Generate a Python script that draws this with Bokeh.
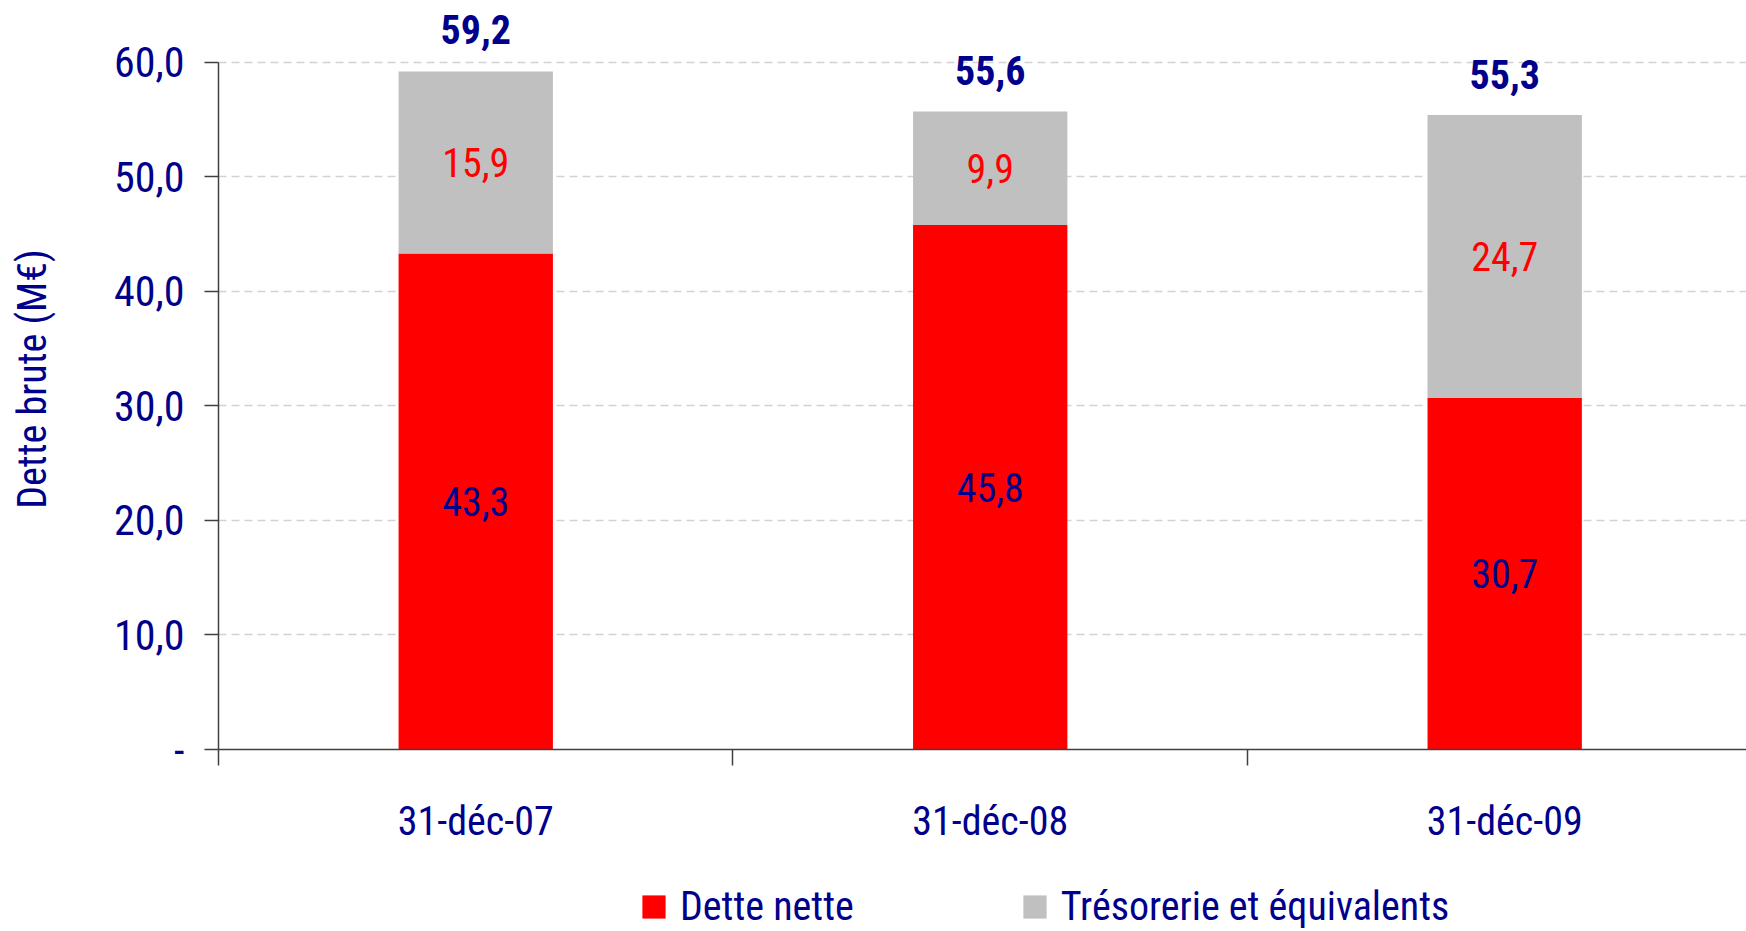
from bokeh.plotting import figure
from bokeh.layouts import column
from bokeh.models import (Range1d, LinearAxis, FixedTicker, ColumnDataSource,
                          Legend, LegendItem)
from bokeh.core.properties import value
from bokeh.embed import file_html
from bokeh.resources import INLINE

categories = ["31-déc-07", "31-déc-08", "31-déc-09"]
dette_nette = [43.3, 45.8, 30.7]
tresorerie = [15.9, 9.9, 24.7]
totaux = [59.2, 55.6, 55.3]
y_ticks = [0, 10, 20, 30, 40, 50, 60]
y_tick_labels = ["-", "10,0", "20,0", "30,0", "40,0", "50,0", "60,0"]
series_names = ["Dette nette", "Trésorerie et équivalents"]
series_colors = ["#FF0000", "#C0C0C0"]

FONT = "'Roboto Condensed', 'DejaVu Sans Condensed', 'Liberation Sans'"
NAVY = "#00008B"
FS = "40px"


def fr(v):
    return f"{v:.1f}".replace(".", ",")


pos = [i + 0.5 for i in range(len(categories))]
src = ColumnDataSource(dict(
    x=pos,
    net=dette_nette,
    tre=tresorerie,
    tot=totaux,
    net_mid=[v / 2 for v in dette_nette],
    tre_mid=[a + b / 2 for a, b in zip(dette_nette, tresorerie)],
    net_lbl=[fr(v) for v in dette_nette],
    tre_lbl=[fr(v) for v in tresorerie],
    tot_lbl=[fr(v) for v in totaux],
))

p = figure(width=1746, height=854, output_backend="svg", toolbar_location=None,
           x_range=Range1d(0, 2.970), y_range=Range1d(0, 64.7),
           x_axis_location=None, y_axis_location=None,
           min_border_left=218, min_border_right=0, min_border_top=8,
           min_border_bottom=105)
p.outline_line_color = None
p.background_fill_color = "white"
p.border_fill_color = "white"

r = p.vbar_stack(["net", "tre"], x="x", width=0.30, source=src,
                 color=series_colors, line_color=None)

# grid
p.xgrid.visible = False
p.ygrid.ticker = FixedTicker(ticks=y_ticks[1:])
p.ygrid.grid_line_color = "#D3D3D3"
p.ygrid.grid_line_dash = "8 5"
p.ygrid.grid_line_width = 1.5

# y axis
yax = LinearAxis(ticker=FixedTicker(ticks=y_ticks), bounds=(0, 60))
yax.major_label_overrides = {t: l for t, l in zip(y_ticks, y_tick_labels)}
yax.axis_label = "Dette brute (M€)"
yax.axis_label_text_font = FONT
yax.axis_label_text_font_size = "40px"
yax.axis_label_text_font_style = "normal"
yax.axis_label_text_color = NAVY
yax.axis_label_standoff = 55
yax.major_label_text_font = FONT
yax.major_label_text_font_size = "42px"
yax.major_label_text_color = NAVY
yax.major_label_standoff = 20
yax.major_tick_out = 14
yax.major_tick_in = 0
yax.minor_tick_line_color = None
yax.axis_line_color = "#404040"
yax.axis_line_width = 1.5
yax.major_tick_line_color = "#404040"
yax.major_tick_line_width = 1.5
p.add_layout(yax, "left")

# x axis: boundary ticks
xt = LinearAxis(ticker=FixedTicker(ticks=list(range(len(categories) + 1))))
xt.major_label_overrides = {i: "" for i in range(len(categories) + 1)}
xt.major_label_text_font_size = "1px"
xt.major_label_standoff = 0
xt.major_tick_out = 16
xt.major_tick_in = 0
xt.minor_tick_line_color = None
xt.axis_line_color = "#404040"
xt.axis_line_width = 1.5
xt.major_tick_line_color = "#404040"
xt.major_tick_line_width = 1.5
p.add_layout(xt, "below")

# x axis: category labels
xl = LinearAxis(ticker=FixedTicker(ticks=pos))
xl.major_label_overrides = {x: c for x, c in zip(pos, categories)}
xl.major_label_text_font = FONT
xl.major_label_text_font_size = FS
xl.major_label_text_color = NAVY
xl.major_label_standoff = 26
xl.major_tick_line_color = None
xl.minor_tick_line_color = None
xl.axis_line_color = None
p.add_layout(xl, "below")

# value labels
p.text(x="x", y="net_mid", text="net_lbl", source=src, text_align="center",
       text_baseline="middle", text_color=NAVY, text_font=value(FONT),
       text_font_size=FS)
p.text(x="x", y="tre_mid", text="tre_lbl", source=src, text_align="center",
       text_baseline="middle", text_color="#FF0000", text_font=value(FONT),
       text_font_size=FS)
p.text(x="x", y="tot", text="tot_lbl", source=src, text_align="center",
       text_baseline="alphabetic", y_offset=-42, text_color=NAVY,
       text_font=value(FONT), text_font_size=FS, text_font_style="bold")

# legend strip under the chart (its frame is aligned with the chart's frame)
pl = figure(width=1746, height=77, output_backend="svg", toolbar_location=None,
            x_range=Range1d(0, 2.970), y_range=Range1d(0, 64.7),
            x_axis_location=None, y_axis_location=None,
            min_border_left=0, min_border_right=0, min_border_top=0,
            min_border_bottom=0)
pl.outline_line_color = None
pl.xgrid.visible = False
pl.ygrid.visible = False
# zero-area copies of the series: only their legend swatches show
lr = [pl.vbar(x="x", bottom=col, top=col, width=0, source=src, color=c,
              line_color=None)
      for col, c in zip(["net", "tre"], series_colors)]
legend = Legend(items=[LegendItem(label=n, renderers=[rr]) for n, rr in zip(series_names, lr)],
                orientation="horizontal", location=(421, 1))
legend.label_text_font = FONT
legend.label_text_font_size = FS
legend.label_text_color = NAVY
legend.glyph_width = 29
legend.glyph_height = 29
legend.label_standoff = 12
legend.spacing = 166
legend.padding = 0
legend.margin = 0
legend.border_line_color = None
legend.background_fill_alpha = 0
pl.add_layout(legend, "center")

open("out.html", "w").write(file_html(column(p, pl, spacing=0), INLINE))
